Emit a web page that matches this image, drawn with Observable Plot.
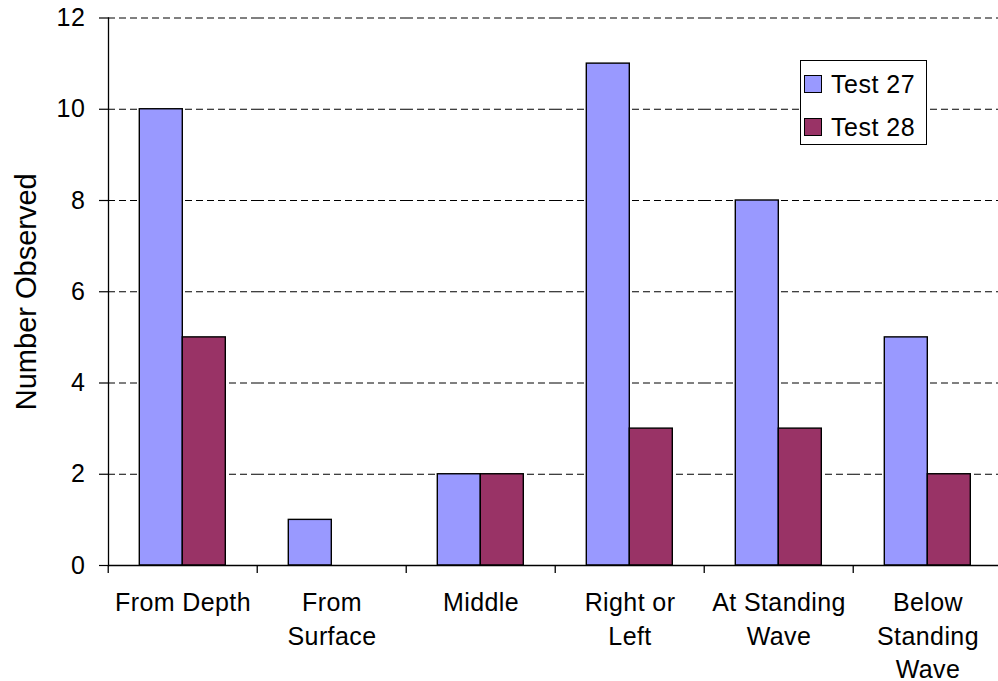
<!DOCTYPE html>
<html><head><meta charset="utf-8">
<script src="https://cdn.jsdelivr.net/npm/d3@7"></script>
<script src="https://cdn.jsdelivr.net/npm/@observablehq/plot@0.6"></script>
<style>
html,body{margin:0;padding:0;background:#fff;overflow:hidden;}
#wrap{position:relative;width:998px;height:681px;overflow:hidden;font-family:"Liberation Sans",Arial,sans-serif;}
#wrap svg{max-width:none !important;width:1004px !important;height:681px !important;}
#legend{position:absolute;left:800px;top:60px;width:127px;height:85px;box-sizing:border-box;border:1px solid #000;background:#fff;}
.row{position:absolute;left:3px;height:30px;display:flex;align-items:center;font-size:25px;letter-spacing:0.5px;color:#000;white-space:nowrap;}
.sw{width:18px;height:18px;border:1.5px solid #000;box-sizing:border-box;margin-right:9px;flex:none;}
g[aria-label="fx-axis tick label"] text, g[aria-label="y-axis tick label"] text{letter-spacing:0.4px;}
</style>
</head><body>
<div id="wrap"></div>
<script>
const categories = ["From Depth", "From Surface", "Middle", "Right or Left", "At Standing Wave", "Below Standing Wave"];
const categoryLabels = ["From Depth", "From\nSurface", "Middle", "Right or\nLeft", "At Standing\nWave", "Below\nStanding\nWave"];
const series = ["Test 27", "Test 28"];
const test27 = [10, 1, 2, 11, 8, 5];
const test28 = [5, 0, 2, 3, 3, 2];
const yTicks = [0, 2, 4, 6, 8, 10, 12];
const colors = ["#9999FF", "#993366"];

const rows = [];
categories.forEach((c, i) => {
  rows.push({category: c, series: series[0], value: test27[i]});
  rows.push({category: c, series: series[1], value: test28[i]});
});
const barRows = rows.filter(d => d.value > 0);

const W = 1004, H = 681, ML = 106.7, MR = 0, MT = 17.5, MB = 116;
const step = (W - ML - MR) / categories.length;
const labelOf = new Map(categories.map((c, i) => [c, categoryLabels[i]]));

const chart = Plot.plot({
  width: W, height: H,
  marginLeft: ML, marginRight: MR, marginTop: MT, marginBottom: MB,
  style: {fontFamily: '"Liberation Sans", Arial, sans-serif', color: "#000", background: "#fff", overflow: "visible"},
  fx: {domain: categories, padding: 0, axis: null, label: null},
  x: {domain: series, paddingInner: 0, paddingOuter: 0.72, axis: null},
  y: {domain: [0, 12], axis: null},
  color: {domain: series, range: colors},
  marks: [
    Plot.ruleY(yTicks.filter(d => d > 0), {stroke: "#000", strokeWidth: 1, strokeDasharray: "7,4"}),
    Plot.barY(barRows, {fx: "category", x: "series", y: "value", fill: "series", stroke: "#000", strokeWidth: 1.4, inset: 0}),
    Plot.ruleY([0], {stroke: "#000", strokeWidth: 1.3}),
    Plot.frame({anchor: "left", facetAnchor: "left", stroke: "#000", strokeWidth: 1.3}),
    Plot.axisY({ticks: yTicks, tickSize: 9, tickPadding: 14.3, fontSize: 25, tickFormat: d => String(d), strokeWidth: 1.2,
      label: "Number Observed", labelAnchor: "center", labelArrow: "none", labelOffset: 93}),
    Plot.axisFx({anchor: "bottom", tickSize: 8, tickFormat: () => "", dx: -step / 2, strokeWidth: 1.3, label: null}),
    Plot.axisFx({anchor: "bottom", tickSize: 0, tickPadding: 22, fontSize: 25, lineHeight: 1.34, tickFormat: d => labelOf.get(d), label: null})
  ]
});

chart.querySelectorAll('g[aria-label="y-axis label"] text').forEach(t => t.setAttribute("font-size", 29));

const wrap = document.getElementById("wrap");
wrap.appendChild(chart);

const legend = document.createElement("div");
legend.id = "legend";
series.forEach((s, i) => {
  const row = document.createElement("div");
  row.className = "row";
  row.style.top = (8 + i * 43) + "px";
  const sw = document.createElement("div");
  sw.className = "sw";
  sw.style.background = colors[i];
  const tx = document.createElement("span");
  tx.textContent = s;
  row.appendChild(sw); row.appendChild(tx);
  legend.appendChild(row);
});
wrap.appendChild(legend);
</script>
</body></html>
